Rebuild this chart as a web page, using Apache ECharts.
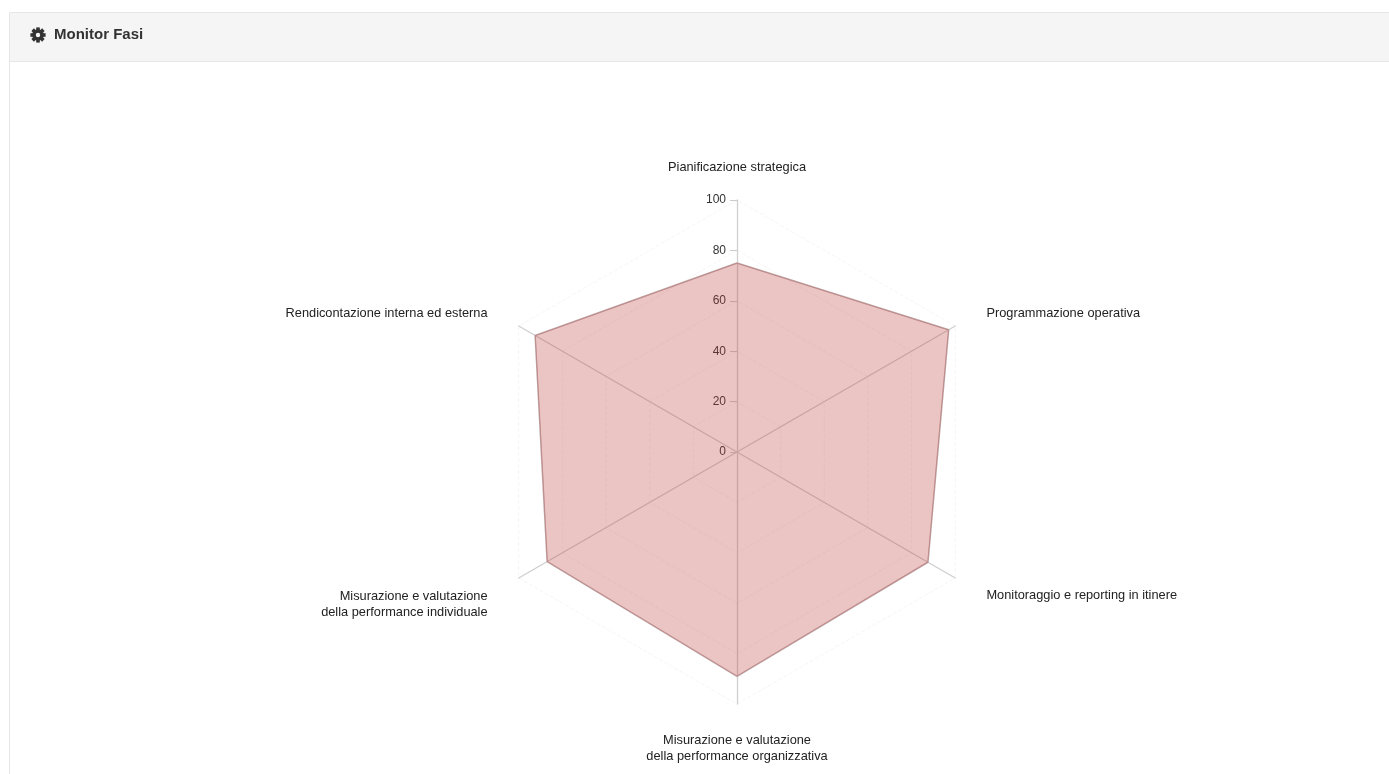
<!DOCTYPE html>
<html><head><meta charset="utf-8">
<style>html,body{margin:0;padding:0;background:#fff}#c{width:1389px;height:774px}</style>
<script src="https://cdn.jsdelivr.net/npm/echarts@6/dist/echarts.min.js"></script>
</head><body><div id="c"></div>
<script>
// listed clockwise from the top, as read in the picture
const categories = ['Pianificazione strategica','Programmazione operativa','Monitoraggio e reporting in itinere','Misurazione e valutazione\ndella performance organizzativa','Misurazione e valutazione\ndella performance individuale','Rendicontazione interna ed esterna'];
const values = [75, 97, 87.5, 89, 87, 92.5];
const axisMax = 100;
const FONT = '"Liberation Sans", Arial, sans-serif';
// ECharts radar runs counter-clockwise, so keep the first and flip the rest
const ccw = a => [a[0], ...a.slice(1).reverse()];
// label nudges, clockwise like categories (padding only acts with top/bottom vertical alignment)
const nameAlign = ['bottom','top','top','top','top','top'];
const namePad = [[0,0,-11,0],[-3,0,0,0],[-9,0,0,0],[-8,0,0,0],[-8,0,0,0],[-3,0,0,0]];
const aligns = ccw(nameAlign), pads = ccw(namePad);
const teeth = [0,1,2,3,4,5,6,7].map(i=>({
  type:'rect',x:38,y:35,rotation:i*Math.PI/4,
  shape:{x:-1.8,y:-7.6,width:3.6,height:4},style:{fill:'#333'}
}));
const chart = echarts.init(document.getElementById('c'));
chart.setOption({
  animation:false,
  backgroundColor:'#fff',
  graphic:[
    {type:'rect',z:-10,shape:{x:9.5,y:12.5,width:1400,height:800},style:{fill:'#fff',stroke:'#e6e6e6',lineWidth:1}},
    {type:'rect',z:-9,shape:{x:10,y:13,width:1400,height:48},style:{fill:'#f5f5f5'}},
    {type:'rect',z:-9,shape:{x:10,y:61,width:1400,height:1},style:{fill:'#e6e6e6'}},
    {type:'ring',shape:{cx:38,cy:35,r:5.8,r0:2.2},style:{fill:'#333'}},
    ...teeth,
    {type:'text',x:54,y:27,style:{text:'Monitor Fasi',fill:'#333',font:'bold 15px '+FONT}}
  ],
  radar:{
    center:[737,452],radius:252,startAngle:90,splitNumber:5,shape:'polygon',
    axisNameGap:36,
    axisName:{color:'#222',fontFamily:FONT,fontSize:12.8,lineHeight:16},
    axisLine:{lineStyle:{color:'#cfcfcf',width:1.3}},
    splitLine:{lineStyle:{color:'#f6f6f6',type:'dashed',width:1}},
    splitArea:{show:false},
    axisTick:{show:false},
    axisLabel:{show:false},
    indicator:ccw(categories).map((name,i)=>({name,min:0,max:axisMax,
      nameTextStyle:{color:'#222',fontFamily:FONT,fontSize:12.8,lineHeight:16,verticalAlign:aligns[i],padding:pads[i]},
      axisTick:{show:i===0,length:7,lineStyle:{color:'#cccccc'}},
      axisLabel:{show:i===0,color:'#333',fontFamily:FONT,fontSize:12,margin:11,showMinLabel:true,showMaxLabel:true}}))
  },
  series:[{type:'radar',symbol:'none',silent:true,
    lineStyle:{color:'#bda3a3',width:1.5},
    areaStyle:{color:'rgb(190,60,60)',opacity:0.3},
    data:[{value:ccw(values)}]}]
});
</script></body></html>
